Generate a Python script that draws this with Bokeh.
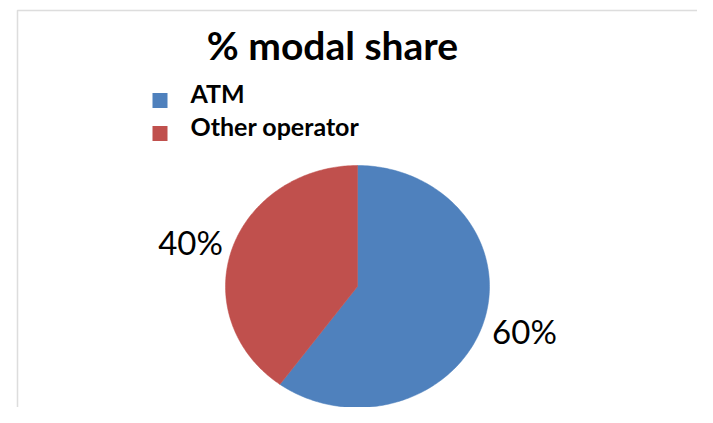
import numpy as np
from bokeh.plotting import figure
from bokeh.models import Range1d, BoxAnnotation
from bokeh.embed import file_html
from bokeh.resources import INLINE
from bokeh.core.properties import value

# ---- data ----
title_text = "% modal share"
categories = ["ATM", "Other operator"]
shares = [60, 40]
colors = ["#4F81BD", "#C0504D"]

FONT = "Lato"
W, H = 697, 407

p = figure(width=W, height=H, output_backend="svg", toolbar_location=None,
           x_range=Range1d(0, W), y_range=Range1d(H, 0), min_border=0)
p.axis.visible = False
p.grid.visible = False
p.outline_line_color = None
p.background_fill_color = "white"
p.border_fill_color = "white"

# chart area border (extends beyond the visible window)
p.add_layout(BoxAnnotation(left=17, top=10, right=W + 60, bottom=H + 60,
                           fill_color=None, line_color="#8E8E8E", line_width=1.5))

# ---- pie (slightly elliptical, clockwise from 12 o'clock) ----
cx, cy, rx, ry = 357, 286, 132, 121
total = float(sum(shares))
fracs = np.array(shares) / total
ends = np.cumsum(fracs) * 2 * np.pi
starts = ends - fracs * 2 * np.pi

xs, ys = [], []
for a0, a1 in zip(starts, ends):
    t = np.linspace(a0, a1, 200)
    xs.append([cx] + list(cx + rx * np.sin(t)) + [cx])
    ys.append([cy] + list(cy - ry * np.cos(t)) + [cy])
p.patches(xs=xs, ys=ys, fill_color=colors, line_color=colors, line_width=0.5)

# ---- percentage labels ----
mids = (starts + ends) / 2
lab_x = cx + 1.33 * rx * np.sin(mids)
lab_y = cy - 1.19 * ry * np.cos(mids)
lab_txt = [f"{round(f * 100)}%" for f in fracs]
p.text(x=lab_x, y=lab_y, text=lab_txt, text_font=value(FONT), text_font_size="33px",
       text_color="black", text_align="center", text_baseline="middle")

# ---- title ----
p.text(x=[332], y=[44], text=[title_text], text_font=value(FONT), text_font_size="39px",
       text_font_style="bold", text_color="black", text_align="center",
       text_baseline="middle")

# ---- legend ----
leg_y = [100 + 33 * i for i in range(len(categories))]
p.scatter(x=[159.5] * len(categories), y=leg_y, marker="square", size=15,
          fill_color=colors, line_color=None)
p.text(x=[190] * len(categories), y=[v - 8 for v in leg_y], text=categories,
       text_font=value(FONT), text_font_size="25px", text_font_style="bold",
       text_color="black", text_align="left", text_baseline="middle")

open("out.html", "w").write(file_html(p, INLINE))
